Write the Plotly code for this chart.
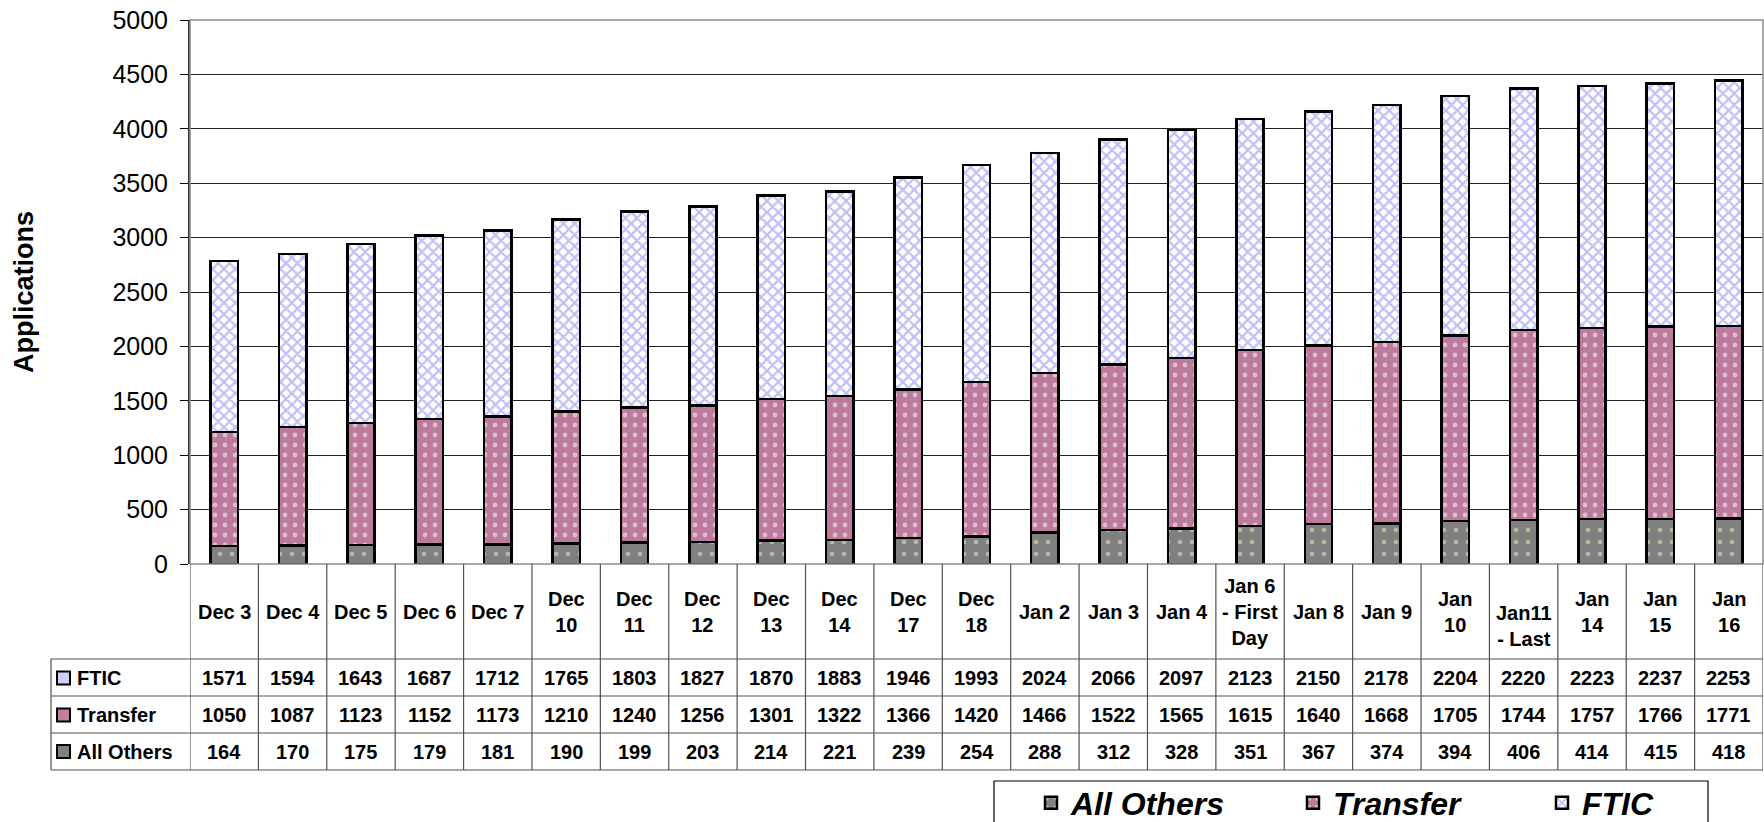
import plotly.graph_objects as go

# ---------------- data ----------------
categories = ["Dec 3", "Dec 4", "Dec 5", "Dec 6", "Dec 7", "Dec 10", "Dec 11", "Dec 12",
              "Dec 13", "Dec 14", "Dec 17", "Dec 18", "Jan 2", "Jan 3", "Jan 4",
              "Jan 6 - First Day", "Jan 8", "Jan 9", "Jan 10", "Jan11 - Last",
              "Jan 14", "Jan 15", "Jan 16"]
header_labels = ["Dec 3", "Dec 4", "Dec 5", "Dec 6", "Dec 7", "Dec<br>10", "Dec<br>11", "Dec<br>12",
                 "Dec<br>13", "Dec<br>14", "Dec<br>17", "Dec<br>18", "Jan 2", "Jan 3", "Jan 4",
                 "Jan 6<br>- First<br>Day", "Jan 8", "Jan 9", "Jan<br>10", "Jan11<br>- Last",
                 "Jan<br>14", "Jan<br>15", "Jan<br>16"]
ftic = [1571, 1594, 1643, 1687, 1712, 1765, 1803, 1827, 1870, 1883, 1946, 1993,
        2024, 2066, 2097, 2123, 2150, 2178, 2204, 2220, 2223, 2237, 2253]
transfer = [1050, 1087, 1123, 1152, 1173, 1210, 1240, 1256, 1301, 1322, 1366, 1420,
            1466, 1522, 1565, 1615, 1640, 1668, 1705, 1744, 1757, 1766, 1771]
all_others = [164, 170, 175, 179, 181, 190, 199, 203, 214, 221, 239, 254,
              288, 312, 328, 351, 367, 374, 394, 406, 414, 415, 418]
y_ticks = [0, 500, 1000, 1500, 2000, 2500, 3000, 3500, 4000, 4500, 5000]

# ---------------- geometry helpers ----------------
W, H = 1764, 822
ML, MR, MT, MB = 190, 1, 20, 258
PW = W - ML - MR
PH = H - MT - MB
FONT = "Liberation Sans, Arial, sans-serif"


def xp(px):
    return (px - ML) / PW


def yp(py):
    return (MT + PH - py) / PH


fig = go.Figure()

series = [
    ("All Others", all_others, "#808080",
     dict(shape=".", fgcolor="#F4F4C8", bgcolor="#808080", size=12, solidity=0.12), "legend"),
    ("Transfer", transfer, "#C283A3",
     dict(shape=".", fgcolor="#FFFFFF", bgcolor="#BC7A9C", size=10, solidity=0.18), "legend2"),
    ("FTIC", ftic, "#FFFFFF",
     dict(shape="x", fgcolor="#8282EC", bgcolor="#FFFFFF", size=8, solidity=0.5), "legend3"),
]
for name, vals, col, pat, leg in series:
    fig.add_trace(go.Bar(
        x=categories, y=vals, name=name, width=0.4,
        marker=dict(color=col, pattern=pat, line=dict(color="black", width=2.5)),
        legend=leg,
    ))

shapes = []
annotations = []

# plot border (gray) on top/right
shapes.append(dict(type="rect", xref="paper", yref="paper", x0=0, x1=1, y0=0, y1=1,
                   line=dict(color="#8C8C8C", width=1.5), layer="above"))

# ---------------- data table ----------------
row_lines = [659, 696, 733, 770]
table_left = 51
line_col = "#505050"
n = len(categories)
for i in range(n + 1):
    shapes.append(dict(type="line", xref="x", yref="paper", x0=i - 0.5, x1=i - 0.5,
                       y0=yp(564), y1=yp(770), line=dict(color=line_col, width=1.2)))
shapes.append(dict(type="line", xref="paper", yref="paper", x0=xp(table_left), x1=xp(table_left),
                   y0=yp(row_lines[0]), y1=yp(770), line=dict(color=line_col, width=1.2)))
for r in row_lines:
    shapes.append(dict(type="line", xref="paper", yref="paper", x0=xp(table_left), x1=1,
                       y0=yp(r), y1=yp(r), line=dict(color=line_col, width=1.2)))

for i, lab in enumerate(header_labels):
    shift = -14 if lab.startswith("Jan11") else 0
    annotations.append(dict(x=categories[i], y=yp(611.5), xref="x", yref="paper", text=lab,
                            showarrow=False, yshift=shift,
                            font=dict(family=FONT, size=20, color="black", weight="bold"),
                            xanchor="center", yanchor="middle"))

rows = [("FTIC", ftic, "#CFCFFA", 678), ("Transfer", transfer, "#C080A0", 715),
        ("All Others", all_others, "#808080", 751.5)]
for name, vals, kcol, cy in rows:
    shapes.append(dict(type="rect", xref="paper", yref="paper",
                       x0=xp(57), x1=xp(70), y0=yp(cy - 6.5), y1=yp(cy + 6.5),
                       fillcolor=kcol, line=dict(color="black", width=2)))
    annotations.append(dict(x=xp(75), y=yp(cy), xref="paper", yref="paper", text=name,
                            showarrow=False, xanchor="left", yanchor="middle",
                            font=dict(family=FONT, size=20, color="black", weight="bold")))
    for i, v in enumerate(vals):
        annotations.append(dict(x=categories[i], y=yp(cy), xref="x", yref="paper", text=str(v),
                                showarrow=False, xanchor="center", yanchor="middle",
                                font=dict(family=FONT, size=20, color="black", weight="bold")))

annotations.append(dict(x=xp(24), y=yp(292), xref="paper", yref="paper", text="Applications",
                        showarrow=False, textangle=-90, xanchor="center", yanchor="middle",
                        font=dict(family=FONT, size=27, color="black", weight="bold")))

# legend box
shapes.append(dict(type="rect", xref="paper", yref="paper", x0=xp(994), x1=xp(1708),
                   y0=yp(840), y1=yp(781), line=dict(color="black", width=1.2),
                   fillcolor="white", layer="below"))

leg_font = dict(family=FONT, size=32, color="black", weight="bold", style="italic")
leg_common = dict(orientation="h", bgcolor="rgba(0,0,0,0)", borderwidth=0, font=leg_font,
                  xref="container", yref="container",
                  yanchor="middle", xanchor="left", y=1 - 803 / H)

fig.update_layout(
    width=W, height=H,
    margin=dict(l=ML, r=MR, t=MT, b=MB, pad=0, autoexpand=False),
    paper_bgcolor="white", plot_bgcolor="white",
    barmode="stack",
    showlegend=True,
    legend=dict(x=1031 / W, **leg_common),
    legend2=dict(x=1293 / W, **leg_common),
    legend3=dict(x=1542 / W, **leg_common),
    xaxis=dict(range=[-0.5, n - 0.5], showticklabels=False, ticks="", showgrid=False,
               showline=False, zeroline=False, fixedrange=True),
    yaxis=dict(range=[0, 5000], tickvals=y_ticks, ticks="outside", ticklen=8,
               tickcolor="black", tickwidth=1, showgrid=True, gridcolor="#222222", gridwidth=1,
               showline=True, linecolor="#333333", linewidth=2, zeroline=False,
               tickfont=dict(family=FONT, size=25, color="black"), ticklabelstandoff=7),
    shapes=shapes,
    annotations=annotations,
)

fig.write_html("out.html", config={"displayModeBar": False},
               post_script="document.body.style.margin='0';")
